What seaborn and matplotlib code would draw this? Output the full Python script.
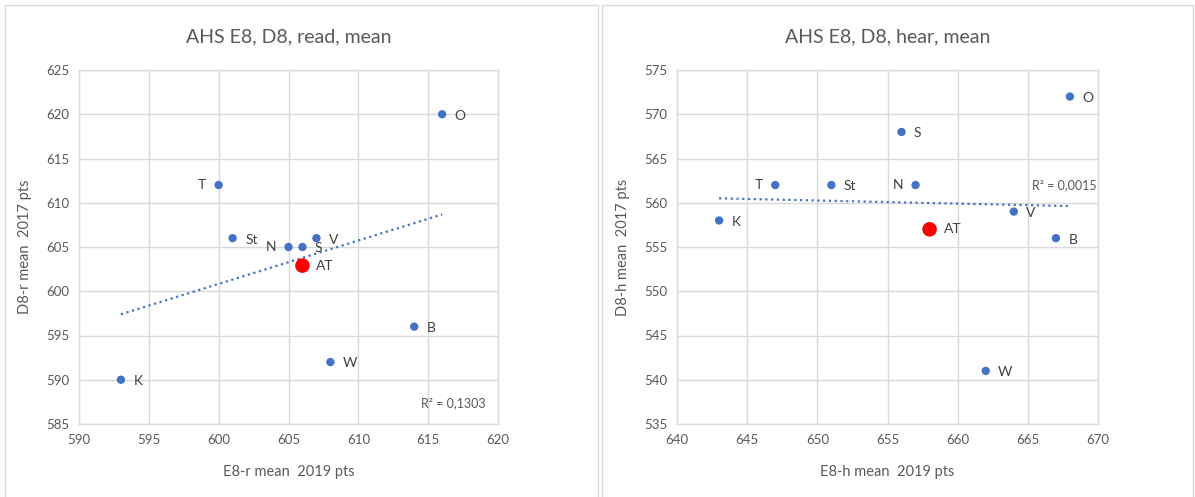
import numpy as np
import pandas as pd
import matplotlib
matplotlib.use("Agg")
import matplotlib.pyplot as plt
import seaborn as sns
from matplotlib.patches import Rectangle

# ---- data ----
labels = ["K", "T", "St", "N", "S", "V", "W", "B", "O"]
read_e8 = [593, 600, 601, 605, 606, 607, 608, 614, 616]
read_d8 = [590, 612, 606, 605, 605, 606, 592, 596, 620]
read_at = (606.0, 602.9)
read_left = ["T", "N"]

hear_labels = ["K", "T", "St", "S", "N", "W", "V", "B", "O"]
hear_e8 = [643, 647, 651, 656, 657, 662, 664, 667, 668]
hear_d8 = [558, 562, 562, 568, 562, 541, 559, 556, 572]
hear_at = (658.0, 557.0)
hear_left = ["T", "N"]

sns.set_theme(style="white")
plt.rcParams["font.family"] = ["Lato", "DejaVu Sans"]

BLUE = "#4472C4"
GRAY = "#595959"
GRID = "#d9d9d9"

fig = plt.figure(figsize=(11.95, 4.97), dpi=100)
fig.patch.set_facecolor("white")

# panel borders
for x0, w in [(5 / 1195, 593 / 1195), (602 / 1195, 591 / 1195)]:
    fig.add_artist(Rectangle((x0, -0.01), w, 0.999, transform=fig.transFigure,
                             fill=False, edgecolor=GRID, lw=1.0))


def panel(rect, names, xs, ys, at, left_names, title, xlabel, ylabel,
          xlim, ylim, r2text, r2pos, r2ha):
    ax = fig.add_axes(rect)
    df = pd.DataFrame({"x": xs, "y": ys, "name": names})
    sns.scatterplot(data=df, x="x", y="y", ax=ax, color=BLUE, s=36,
                    edgecolor="none", zorder=3)
    at_df = pd.DataFrame({"x": [at[0]], "y": [at[1]]})
    sns.scatterplot(data=at_df, x="x", y="y", ax=ax, color="#FF0000", s=110,
                    edgecolor="none", zorder=4)
    # linear trend line (fit of the school points)
    k, b = np.polyfit(xs, ys, 1)
    tx = np.array([min(xs), max(xs)])
    tr = pd.DataFrame({"x": tx, "y": k * tx + b})
    sns.lineplot(data=tr, x="x", y="y", ax=ax, color=BLUE, lw=1.6,
                 linestyle=(0, (1, 1.6)), zorder=2)
    for n, x, y in zip(names, xs, ys):
        if n in left_names:
            ax.annotate(n, (x, y), xytext=(-9, 0), textcoords="offset points",
                        ha="right", va="center", fontsize=10, color="#404040")
        else:
            ax.annotate(n, (x, y), xytext=(9, -1), textcoords="offset points",
                        ha="left", va="center", fontsize=10, color="#404040")
    ax.annotate("AT", at, xytext=(10, 0), textcoords="offset points",
                ha="left", va="center", fontsize=10, color="#404040")
    ax.text(r2pos[0], r2pos[1], r2text, ha=r2ha, va="center", fontsize=9,
            color=GRAY)
    ax.set_xlim(*xlim)
    ax.set_ylim(*ylim)
    ax.set_xticks(np.arange(xlim[0], xlim[1] + 1, 5))
    ax.set_yticks(np.arange(ylim[0], ylim[1] + 1, 5))
    ax.grid(True, color=GRID, lw=1.0)
    ax.set_axisbelow(True)
    for s in ax.spines.values():
        s.set_color(GRID)
        s.set_linewidth(1.0)
    ax.tick_params(axis="both", labelsize=9.5, colors=GRAY, length=0, pad=7)
    ax.set_xlabel(xlabel, fontsize=10.5, color=GRAY, labelpad=14)
    ax.set_ylabel(ylabel, fontsize=10.5, color=GRAY, labelpad=10)
    ax.set_title(title, fontsize=14, color=GRAY, pad=20)
    return ax


panel([79 / 1195, 73 / 497, 419 / 1195, 354 / 497], labels, read_e8, read_d8,
      read_at, read_left, "AHS E8, D8, read, mean", "E8-r mean  2019 pts",
      "D8-r mean  2017 pts", (590, 620), (585, 625), "R² = 0,1303",
      (619.1, 587.3), "right")

panel([677 / 1195, 73 / 497, 421 / 1195, 354 / 497], hear_labels, hear_e8,
      hear_d8, hear_at, hear_left, "AHS E8, D8, hear, mean",
      "E8-h mean  2019 pts", "D8-h mean  2017 pts", (640, 670), (535, 575),
      "R² = 0,0015", (669.9, 562.0), "right")

fig.savefig("out.png", dpi=100, facecolor="white")
